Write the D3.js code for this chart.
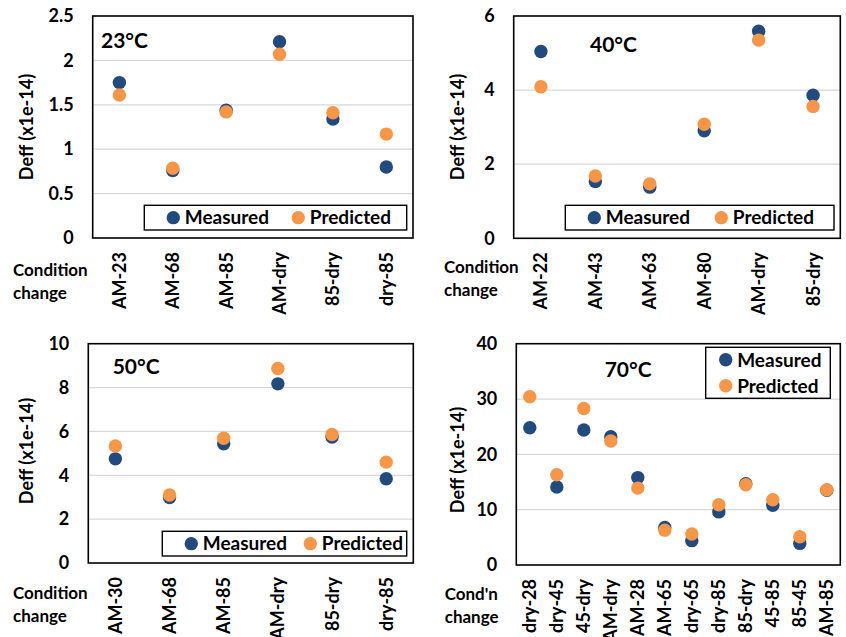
<!DOCTYPE html>
<html lang="en">

<head>
    <meta charset="UTF-8">
    <title>Deff measured vs predicted</title>
    <style>
        body {
            padding: 0px;
            margin: 0px;
            background-color: white;
        }
    </style>
</head>

<body>
    <div id="svg"></div>
    <script src="https://cdn.jsdelivr.net/npm/d3@7"></script>
    <script>

        // ---- data ----
        const cats23 = ['AM-23', 'AM-68', 'AM-85', 'AM-dry', '85-dry', 'dry-85']
        const meas23 = [1.75, 0.76, 1.44, 2.21, 1.34, 0.80]
        const pred23 = [1.61, 0.785, 1.42, 2.07, 1.41, 1.17]
        const ticks23 = [0, 0.5, 1, 1.5, 2, 2.5]

        const cats40 = ['AM-22', 'AM-43', 'AM-63', 'AM-80', 'AM-dry', '85-dry']
        const meas40 = [5.04, 1.53, 1.38, 2.90, 5.59, 3.86]
        const pred40 = [4.09, 1.68, 1.47, 3.08, 5.35, 3.56]
        const ticks40 = [0, 2, 4, 6]

        const cats50 = ['AM-30', 'AM-68', 'AM-85', 'AM-dry', '85-dry', 'dry-85']
        const meas50 = [4.75, 2.99, 5.44, 8.17, 5.74, 3.84]
        const pred50 = [5.34, 3.10, 5.69, 8.87, 5.86, 4.60]
        const ticks50 = [0, 2, 4, 6, 8, 10]

        const cats70 = ['dry-28', 'dry-45', '45-dry', 'AM-dry', 'AM-28', 'AM-65', 'dry-65', 'dry-85', '85-dry', '45-85', '85-45', 'AM-85']
        const meas70 = [24.8, 14.1, 24.4, 23.2, 15.8, 6.8, 4.4, 9.6, 14.7, 10.8, 3.9, 13.5]
        const pred70 = [30.4, 16.3, 28.3, 22.4, 13.9, 6.3, 5.6, 10.9, 14.5, 11.8, 5.1, 13.6]
        const ticks70 = [0, 10, 20, 30, 40]

        const seriesNames = ['Measured', 'Predicted']
        const colors = ['#234a7e', '#f79646']

        const font = "Lato, 'Open Sans', sans-serif"

        const w = 846
        const h = 637

        const svg = d3.select('#svg')
            .append('svg')
            .attr('width', w)
            .attr('height', h)
            .style('display', 'block')

        svg.append('rect').attr('width', w).attr('height', h).attr('fill', 'white')

        const panels = [
            {
                cats: cats23, meas: meas23, pred: pred23, ticks: ticks23, label: '23°C', condLines: ['Condition', 'change'],
                left: 92.7, right: 413, top: 16, bottom: 238, titleX: 27, titleY: 127,
                labelX: 101, labelY: 48, condX: 13, condY: 276,
                legend: { x: 144.3, y: 205.3, w: 262.4, h: 24.7, vertical: false, gap: 125 }
            },
            {
                cats: cats40, meas: meas40, pred: pred40, ticks: ticks40, label: '40°C', condLines: ['Condition', 'change'],
                left: 513.7, right: 840.3, top: 16, bottom: 238.3, titleX: 458, titleY: 127,
                labelX: 590, labelY: 52, condX: 444, condY: 273,
                legend: { x: 565.3, y: 205.3, w: 268.7, h: 24.7, vertical: false, gap: 127 }
            },
            {
                cats: cats50, meas: meas50, pred: pred50, ticks: ticks50, label: '50°C', condLines: ['Condition', 'change'],
                left: 88.3, right: 413.3, top: 343.7, bottom: 563, titleX: 27, titleY: 451,
                labelX: 112.7, labelY: 374, condX: 13, condY: 599,
                legend: { x: 162.3, y: 531.3, w: 244.4, h: 24.7, vertical: false, gap: 119 }
            },
            {
                cats: cats70, meas: meas70, pred: pred70, ticks: ticks70, label: '70°C', condLines: ["Cond'n", 'change'],
                left: 516.3, right: 840.3, top: 343.7, bottom: 565, titleX: 458, titleY: 460,
                labelX: 604.7, labelY: 377, condX: 444.7, condY: 600,
                legend: { x: 705.7, y: 347.3, w: 124.6, h: 51, vertical: true, gap: 26 }
            }
        ]

        panels.forEach(drawPanel)

        function drawPanel(p) {
            const g = svg.append('g')

            const x = d3.scaleBand().domain(p.cats).range([p.left, p.right])
            const y = d3.scaleLinear().domain([0, d3.max(p.ticks)]).range([p.bottom, p.top])

            // gridlines
            g.selectAll('line.grid')
                .data(p.ticks.slice(1, -1))
                .join('line')
                .attr('class', 'grid')
                .attr('x1', p.left).attr('x2', p.right)
                .attr('y1', d => y(d)).attr('y2', d => y(d))
                .attr('stroke', '#d9d9d9')
                .attr('stroke-width', 1.3)

            // plot border
            g.append('rect')
                .attr('x', p.left).attr('y', p.top)
                .attr('width', p.right - p.left).attr('height', p.bottom - p.top)
                .attr('fill', 'none')
                .attr('stroke', '#000')
                .attr('stroke-width', 1.6)

            // y axis
            const yAxis = g.append('g')
                .attr('transform', 'translate(' + (p.left - 19) + ',0)')
                .call(d3.axisLeft(y).tickValues(p.ticks).tickSize(0).tickPadding(0).tickFormat(d => String(d)))
            yAxis.select('.domain').remove()
            yAxis.selectAll('text')
                .attr('font-family', font).attr('font-size', 18).attr('font-weight', 'bold').attr('fill', '#000')

            // x axis, rotated labels
            const xAxis = g.append('g')
                .attr('transform', 'translate(0,' + p.bottom + ')')
                .call(d3.axisBottom(x).tickSize(0).tickPadding(0))
            xAxis.select('.domain').remove()
            xAxis.selectAll('text')
                .attr('transform', 'rotate(-90)')
                .attr('x', -14).attr('y', 0).attr('dy', '0.36em')
                .attr('text-anchor', 'end')
                .attr('font-family', font).attr('font-size', 18).attr('font-weight', 'bold').attr('fill', '#000')

            // y title
            g.append('text')
                .attr('transform', 'translate(' + p.titleX + ',' + p.titleY + ') rotate(-90)')
                .attr('text-anchor', 'middle')
                .attr('dy', '0.36em')
                .attr('font-family', font).attr('font-size', 18).attr('font-weight', 'bold')
                .text('Deff (x1e-14)')

            // points
            const pts = [p.meas, p.pred]
            pts.forEach((vals, si) => {
                g.selectAll('circle.s' + si)
                    .data(vals)
                    .join('circle')
                    .attr('class', 's' + si)
                    .attr('cx', (d, i) => x(p.cats[i]) + x.bandwidth() / 2)
                    .attr('cy', d => y(d))
                    .attr('r', 6.7)
                    .attr('fill', colors[si])
            })

            // temperature label
            g.append('text')
                .attr('x', p.labelX).attr('y', p.labelY)
                .attr('font-family', font).attr('font-size', 21).attr('font-weight', 'bold')
                .text(p.label)

            // condition caption
            g.append('text')
                .attr('x', p.condX).attr('y', p.condY)
                .attr('font-family', font).attr('font-size', 17).attr('font-weight', 'bold')
                .selectAll('tspan')
                .data(p.condLines)
                .join('tspan')
                .attr('x', p.condX)
                .attr('dy', (d, i) => i === 0 ? 0 : 22.5)
                .text(d => d)

            // legend
            const L = p.legend
            const lg = g.append('g')
            lg.append('rect')
                .attr('x', L.x).attr('y', L.y).attr('width', L.w).attr('height', L.h)
                .attr('fill', 'white').attr('stroke', '#000').attr('stroke-width', 1.4)
            seriesNames.forEach((name, si) => {
                let cx, cy
                if (L.vertical) {
                    cx = L.x + 20
                    cy = L.y + 12.4 + si * L.gap
                } else {
                    cx = L.x + 29 + si * L.gap
                    cy = L.y + L.h / 2
                }
                lg.append('circle').attr('cx', cx).attr('cy', cy).attr('r', 6.7).attr('fill', colors[si])
                lg.append('text')
                    .attr('x', cx + 11.5).attr('y', cy).attr('dy', '0.36em')
                    .attr('font-family', font).attr('font-size', 19).attr('font-weight', 'bold')
                    .text(name)
            })
        }

    </script>
</body>

</html>
